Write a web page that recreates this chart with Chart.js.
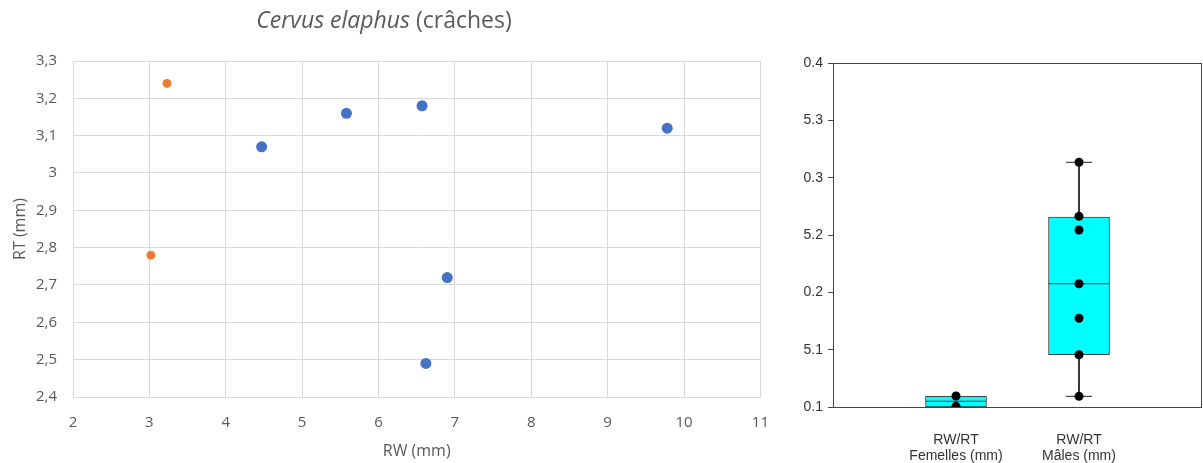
<!DOCTYPE html>
<html>
<head>
<meta charset="utf-8">
<script src="https://cdn.jsdelivr.net/npm/chart.js@4.4.1/dist/chart.umd.min.js"></script>
<style>
  html, body { margin: 0; padding: 0; background: #fff; }
  #page { position: relative; width: 1203px; height: 463px; overflow: hidden; }
  #scatter-title {
    position: absolute; left: 184px; width: 400px; top: 3px; text-align: center;
    font-family: "Open Sans", sans-serif; font-size: 23px; color: #595959;
  }
  #scatter-chart { position: absolute; left: 0; top: 0; }
  #box-chart { position: absolute; left: 780px; top: 0; }
</style>
</head>
<body>
<div id="page">
  <canvas id="scatter-chart" width="786" height="463"></canvas>
  <div id="scatter-title"><i>Cervus elaphus</i> (crâches)</div>
  <canvas id="box-chart" width="439" height="463"></canvas>
</div>
<script>
// Nuage de points RW / RT
const femalesRW = [3.23, 3.02];
const femalesRT = [3.24, 2.78];
const malesRW = [4.47, 5.58, 6.57, 6.9, 6.62, 9.78];
const malesRT = [3.07, 3.16, 3.18, 2.72, 2.49, 3.12];
const rwTicks = [2, 3, 4, 5, 6, 7, 8, 9, 10, 11];
const rtTicks = [2.4, 2.5, 2.6, 2.7, 2.8, 2.9, 3.0, 3.1, 3.2, 3.3];
const rtTickLabels = ["2,4", "2,5", "2,6", "2,7", "2,8", "2,9", "3", "3,1", "3,2", "3,3"];

// Boîte à moustaches RW/RT
const boxCategories = ["", ["RW/RT", "Femelles (mm)"], ["RW/RT", "Mâles (mm)"], ""];
const ratioFemales = [0.1096, 0.1006];
const ratioMales = [0.3134, 0.2663, 0.2544, 0.2075, 0.1774, 0.1456, 0.1093];
const boxQ1 = [null, 0.1, 0.1456, null];
const boxQ3 = [null, 0.1093, 0.2657, null];
const boxMedian = [null, 0.105, 0.2075, null];
const whiskerLow = [null, null, 0.1093, null];
const whiskerHigh = [null, null, 0.3134, null];
const boxTicks = [0.1, 0.15, 0.2, 0.25, 0.3, 0.35, 0.4];
const boxTickLabels = ["0.1", "5.1", "0.2", "5.2", "0.3", "5.3", "0.4"];

const gray = "#595959";
const tickFont = { family: "'Open Sans', sans-serif", size: 15 };
const titleFont = { family: "'Open Sans', sans-serif", size: 16 };
const arialFont = { family: "'Liberation Sans', Arial, sans-serif", size: 14, lineHeight: 1.15 };

function toPoints(xs, ys) {
  return xs.map((x, i) => ({ x: x, y: ys[i] }));
}

function initScatterChart() {
  const ctx = document.getElementById("scatter-chart").getContext("2d");
  new Chart(ctx, {
    type: "scatter",
    data: {
      datasets: [
        {
          label: "Mâles",
          data: toPoints(malesRW, malesRT),
          backgroundColor: "#4472C4",
          borderWidth: 0,
          pointRadius: 5.5,
        },
        {
          label: "Femelles",
          data: toPoints(femalesRW, femalesRT),
          backgroundColor: "#ED7D31",
          borderWidth: 0,
          pointRadius: 4.5,
        },
      ],
    },
    options: {
      responsive: false,
      animation: false,
      layout: { autoPadding: false, padding: { top: 61, right: 19, left: 0, bottom: 0 } },
      plugins: { legend: { display: false }, tooltip: { enabled: false } },
      scales: {
        x: {
          type: "linear",
          min: 2,
          max: 11,
          afterBuildTicks: (s) => { s.ticks = rwTicks.map((v) => ({ value: v })); },
          afterFit: (s) => { s.height = 66; },
          grid: { color: "#d9d9d9", lineWidth: 1, drawTicks: false },
          border: { display: false },
          ticks: { color: gray, font: tickFont, padding: 17 },
          title: { display: true, text: "RW (mm)", color: gray, font: titleFont, padding: { top: 0, bottom: 2 } },
        },
        y: {
          type: "linear",
          min: 2.4,
          max: 3.3,
          afterBuildTicks: (s) => { s.ticks = rtTicks.map((v) => ({ value: v })); },
          afterFit: (s) => { s.width = 73; },
          grid: { color: "#d9d9d9", lineWidth: 1, drawTicks: false },
          border: { display: false },
          ticks: {
            color: gray,
            font: tickFont,
            padding: 16,
            callback: (v, i) => rtTickLabels[i],
          },
          title: { display: true, text: "RT (mm)", color: gray, font: titleFont, padding: { top: 11, bottom: 0 } },
        },
      },
    },
  });
}

// Cadre autour de la zone du graphique
const framePlugin = {
  id: "frame",
  afterDatasetsDraw(chart) {
    const a = chart.chartArea;
    const c = chart.ctx;
    c.save();
    c.strokeStyle = "#444";
    c.lineWidth = 1;
    c.strokeRect(Math.round(a.left) + 0.5, Math.round(a.top) + 0.5,
      Math.round(a.right - a.left) - 1, Math.round(a.bottom - a.top));
    c.restore();
  },
};

function initBoxChart() {
  const ctx = document.getElementById("box-chart").getContext("2d");
  const dots = [];
  ratioFemales.forEach((v) => dots.push({ x: boxCategories[1], y: v }));
  ratioMales.forEach((v) => dots.push({ x: boxCategories[2], y: v }));
  const caps = [];
  whiskerLow.forEach((v, i) => { if (v !== null) caps.push({ x: boxCategories[i], y: v }); });
  whiskerHigh.forEach((v, i) => { if (v !== null) caps.push({ x: boxCategories[i], y: v }); });
  const medians = [];
  boxMedian.forEach((v, i) => { if (v !== null) medians.push({ x: boxCategories[i], y: v }); });

  new Chart(ctx, {
    type: "bar",
    data: {
      labels: boxCategories,
      datasets: [
        {
          type: "scatter",
          data: dots,
          backgroundColor: "#000",
          borderWidth: 0,
          pointRadius: 4.5,
          order: 0,
        },
        {
          type: "scatter",
          data: medians,
          pointStyle: "line",
          pointRadius: 30.5,
          borderColor: "#333",
          borderWidth: 1,
          order: 1,
        },
        {
          type: "scatter",
          data: caps,
          pointStyle: "line",
          pointRadius: 13,
          borderColor: "#222",
          borderWidth: 1,
          order: 1,
        },
        {
          data: boxQ1.map((q, i) => (q === null ? null : [q, boxQ3[i]])),
          backgroundColor: "#00FFFF",
          borderColor: "#404040",
          borderWidth: 1,
          borderSkipped: false,
          barThickness: 61,
          grouped: false,
          order: 2,
        },
        {
          data: whiskerHigh.map((w, i) => (w === null ? null : [boxQ3[i], w])),
          backgroundColor: "#111",
          barThickness: 1,
          grouped: false,
          order: 3,
        },
        {
          data: whiskerLow.map((w, i) => (w === null ? null : [w, boxQ1[i]])),
          backgroundColor: "#111",
          barThickness: 1,
          grouped: false,
          order: 3,
        },
      ],
    },
    options: {
      responsive: false,
      animation: false,
      layout: { autoPadding: false, padding: { top: 63, right: 1, left: 0, bottom: 0 } },
      plugins: { legend: { display: false }, tooltip: { enabled: false } },
      scales: {
        x: {
          type: "category",
          offset: false,
          afterFit: (s) => { s.height = 56; },
          grid: { display: false },
          border: { display: false },
          ticks: { color: "#333", font: arialFont, padding: 17, maxRotation: 0, autoSkip: false },
        },
        y: {
          type: "linear",
          min: 0.1,
          max: 0.4,
          afterBuildTicks: (s) => { s.ticks = boxTicks.map((v) => ({ value: v })); },
          afterFit: (s) => { s.width = 53; },
          grid: { drawOnChartArea: false, drawTicks: true, tickLength: 5, color: "#444" },
          border: { display: false },
          ticks: {
            color: "#333",
            font: arialFont,
            padding: 5,
            callback: (v, i) => boxTickLabels[i],
          },
        },
      },
    },
    plugins: [framePlugin],
  });
}

document.addEventListener("DOMContentLoaded", function () {
  initScatterChart();
  initBoxChart();
});
</script>
</body>
</html>
